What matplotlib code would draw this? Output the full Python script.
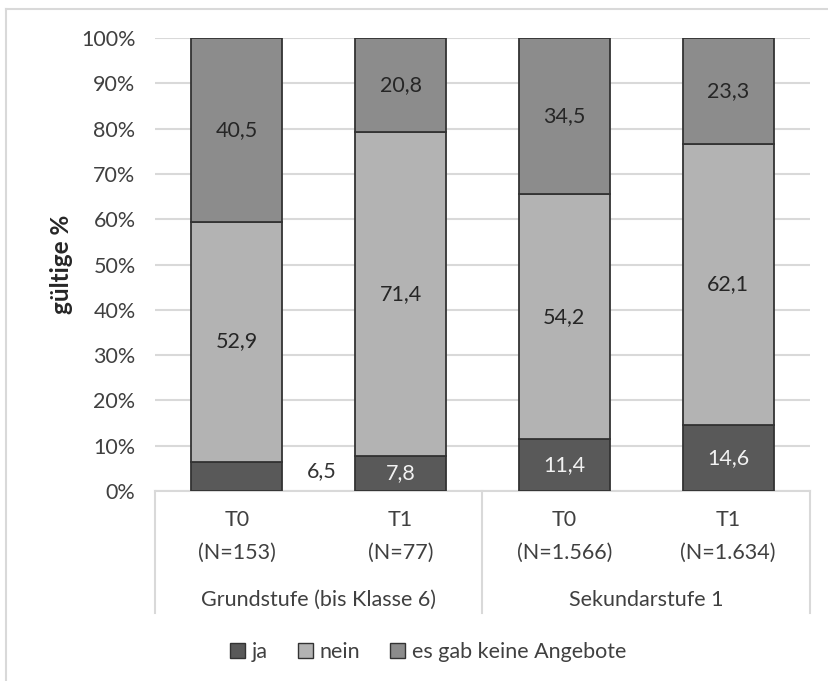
import numpy as np
import matplotlib.pyplot as plt
from matplotlib.patches import Patch
from matplotlib.lines import Line2D

plt.rcParams['font.family'] = ['Lato', 'DejaVu Sans']

# Daten
tick_top = ["T0", "T1", "T0", "T1"]
tick_n = ["(N=153)", "(N=77)", "(N=1.566)", "(N=1.634)"]
gruppen = ["Grundstufe (bis Klasse 6)", "Sekundarstufe 1"]
serien = ["ja", "nein", "es gab keine Angebote"]
ja = [6.5, 7.8, 11.4, 14.6]
nein = [52.9, 71.4, 54.2, 62.1]
keine = [40.5, 20.8, 34.5, 23.3]

farben = ["#595959", "#b3b3b3", "#8c8c8c"]
text_farben = ["#f2f2f2", "#262626", "#262626"]
fs = 15.5

W, H = 829, 681
fig = plt.figure(figsize=(W / 100, H / 100), dpi=100)
ax = fig.add_axes([155 / W, 1 - 491 / H, 655 / W, 453 / H])

x = np.arange(len(ja))
werte = np.array([ja, nein, keine])
anteile = werte / werte.sum(axis=0) * 100  # 100%-gestapelt
unten = np.zeros(len(x))
for i, name in enumerate(serien):
    ax.bar(x, anteile[i], 0.555, bottom=unten, color=farben[i],
           edgecolor="#333333", linewidth=1.3, label=name, zorder=3)
    for j in range(len(x)):
        y = unten[j] + anteile[i][j] / 2
        txt = f"{werte[i][j]:.1f}".replace(".", ",")
        if i == 0 and j == 0:
            # zu klein -> Label neben dem Balken
            ax.text(x[j] + 0.52, y + 1.2, txt, ha="center", va="center",
                    fontsize=fs, color="#333333")
        else:
            ax.text(x[j], y, txt, ha="center", va="center",
                    fontsize=fs, color=text_farben[i], zorder=4)
    unten += anteile[i]

ax.set_xlim(-0.5, 3.5)
ax.set_ylim(0, 100)
ax.set_yticks(np.arange(0, 101, 10))
ax.set_yticklabels([f"{v}%" for v in range(0, 101, 10)], fontsize=fs, color="#404040")
ax.tick_params(axis="y", length=0, pad=14)
ax.set_xticks([])
ax.grid(axis="y", color="#d9d9d9", linewidth=1.5, zorder=0)
for s in ["top", "right", "left"]:
    ax.spines[s].set_visible(False)
ax.spines["bottom"].set_color("#d9d9d9")
ax.spines["bottom"].set_linewidth(1.5)
ax.set_ylabel("gültige %", fontsize=17.5, fontweight="bold", color="#262626", labelpad=6)

# Kategorienachse mit Gruppen
ax_h = 453
tief = -(613 - 491) / ax_h
for xl in [0, 0.5, 1]:
    ax.add_line(Line2D([xl, xl], [0, tief], transform=ax.transAxes,
                       color="#d9d9d9", linewidth=1.5, clip_on=False))
trans = ax.get_xaxis_transform()
for j in range(len(x)):
    ax.text(x[j], -(520 - 491) / ax_h, tick_top[j], transform=trans,
            ha="center", va="center", fontsize=fs, color="#404040")
    ax.text(x[j], -(553 - 491) / ax_h, tick_n[j], transform=trans,
            ha="center", va="center", fontsize=fs, color="#404040")
for g, name in enumerate(gruppen):
    ax.text(0.5 + 2 * g, -(600 - 491) / ax_h, name, transform=trans,
            ha="center", va="center", fontsize=fs, color="#404040")

# Legende
handles = [Patch(facecolor=farben[i], edgecolor="#333333", linewidth=1) for i in range(3)]
fig.legend(handles, serien, loc="center", bbox_to_anchor=(428 / W, 1 - 652 / H),
           ncol=3, frameon=False, fontsize=fs, handlelength=0.7, handleheight=0.7,
           handletextpad=0.3, columnspacing=1.4, labelcolor="#404040")

# Rahmen (nur oben und links sichtbar)
fig.add_artist(Line2D([6 / W, 6 / W], [0, 1 - 9 / H], color="#d9d9d9", linewidth=1.5))
fig.add_artist(Line2D([6 / W, 1], [1 - 9 / H, 1 - 9 / H], color="#d9d9d9", linewidth=1.5))

fig.savefig("out.png", dpi=100)
